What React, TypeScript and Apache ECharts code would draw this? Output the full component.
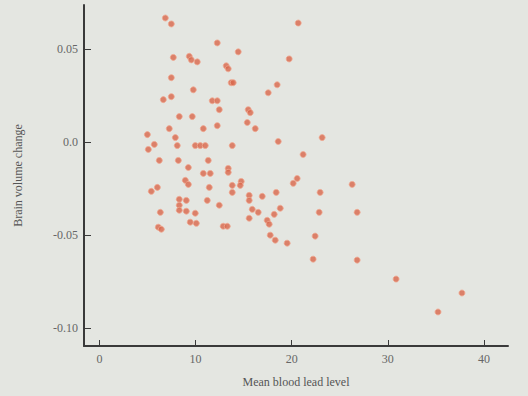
import React, { useEffect, useRef } from "react";
import * as echarts from "echarts";

const leadLevel: number[] = [
  6.86, 7.48, 20.68, 12.26, 14.44, 19.74, 7.69, 9.35, 9.56, 10.18,
  13.19, 13.4, 7.48, 13.71, 13.92, 18.49, 9.77, 17.56, 6.65, 7.48,
  11.74, 12.26, 12.47, 15.48, 15.69, 8.31, 9.66, 15.38, 12.26, 7.27,
  10.81, 16.21, 4.99, 7.9, 18.6, 23.17, 5.71, 5.09, 8.1, 9.97,
  10.49, 11.01, 13.82, 21.19, 6.23, 8.21, 11.32, 9.25, 10.81, 11.53,
  13.4, 13.4, 8.94, 9.25, 6.03, 5.4, 11.43, 20.57, 20.16, 14.75,
  14.65, 13.82, 13.82, 26.29, 8.31, 8.31, 8.31, 9.04, 11.22, 12.47,
  9.04, 9.97, 6.34, 15.58, 15.58, 16.94, 18.39, 22.96, 15.9, 16.52,
  18.81, 18.18, 15.58, 17.45, 17.66, 9.45, 10.08, 6.13, 6.44, 12.88,
  13.3, 22.86, 26.81, 17.77, 18.29, 19.53, 22.44, 22.23, 26.81, 30.86,
  37.71, 35.22,
];

const volumeChange: number[] = [
  0.0667, 0.0635, 0.064, 0.0533, 0.0485, 0.0447, 0.0455, 0.0461, 0.0442, 0.0431,
  0.041, 0.0394, 0.0346, 0.0319, 0.0319, 0.0308, 0.0281, 0.0265, 0.0228, 0.0244,
  0.0222, 0.0222, 0.0174, 0.0174, 0.0158, 0.0137, 0.0137, 0.0105, 0.0088, 0.0072,
  0.0072, 0.0072, 0.004, 0.0024, 0.0003, 0.0024, -0.0013, -0.004, -0.0019, -0.0019,
  -0.0019, -0.0019, -0.0019, -0.0067, -0.0099, -0.0099, -0.0099, -0.0137, -0.0169, -0.0169,
  -0.0142, -0.0163, -0.0206, -0.0228, -0.0244, -0.0265, -0.0244, -0.0196, -0.0222, -0.0212,
  -0.0233, -0.0233, -0.0271, -0.0228, -0.0308, -0.034, -0.0367, -0.0314, -0.0314, -0.034,
  -0.0372, -0.0383, -0.0378, -0.0287, -0.0314, -0.0292, -0.0271, -0.0271, -0.0362, -0.0378,
  -0.0356, -0.0389, -0.041, -0.0421, -0.0442, -0.0431, -0.0437, -0.0458, -0.0469, -0.0453,
  -0.0453, -0.0378, -0.0378, -0.0501, -0.0528, -0.0544, -0.0506, -0.063, -0.0635, -0.0737,
  -0.0812, -0.0914,
];

const xTicks: number[] = [0, 10, 20, 30, 40];
const yTicks: number[] = [-0.1, -0.05, 0, 0.05];
const yTickLabels: string[] = ["-0.10", "-0.05", "0.0", "0.05"];

const FONT = "'Liberation Serif', 'DejaVu Serif', serif";

export default function App() {
  const ref = useRef<HTMLDivElement>(null);

  useEffect(() => {
    document.body.style.margin = "0";
    if (!ref.current) return;
    const chart = echarts.init(ref.current, null, { renderer: "svg" });
    const points = leadLevel.map((x, i) => [x, volumeChange[i]]);
    chart.setOption({
      animation: false,
      backgroundColor: "#e4e6e1",
      grid: { left: 84, right: 20, top: 5, bottom: 50 },
      xAxis: {
        type: "value",
        min: -1.6,
        max: 42.5,
        name: "Mean blood lead level",
        nameLocation: "middle",
        nameGap: 30,
        nameTextStyle: { fontFamily: FONT, fontSize: 12, color: "#555" },
        splitLine: { show: false },
        axisLine: { show: true, onZero: false, lineStyle: { color: "#3a3a3a", width: 2 } },
        axisTick: {
          show: true,
          inside: true,
          length: 6,
          customValues: xTicks,
          lineStyle: { color: "#3a3a3a", width: 1 },
        },
        axisLabel: {
          customValues: xTicks,
          fontFamily: FONT,
          fontSize: 12,
          color: "#666",
          margin: 7,
        },
      },
      yAxis: {
        type: "value",
        min: -0.1097,
        max: 0.0737,
        name: "Brain volume change",
        nameLocation: "middle",
        nameGap: 60,
        nameTextStyle: { fontFamily: FONT, fontSize: 12, color: "#555" },
        splitLine: { show: false },
        axisLine: { show: true, onZero: false, lineStyle: { color: "#3a3a3a", width: 2 } },
        axisTick: {
          show: true,
          inside: true,
          length: 7,
          customValues: yTicks,
          lineStyle: { color: "#3a3a3a", width: 1 },
        },
        axisLabel: {
          customValues: yTicks,
          fontFamily: FONT,
          fontSize: 12,
          color: "#666",
          margin: 6,
          formatter: (v: number) => {
            const i = yTicks.findIndex((t) => Math.abs(t - v) < 1e-9);
            return i >= 0 ? yTickLabels[i] : "";
          },
        },
      },
      series: [
        {
          type: "scatter",
          data: points,
          symbolSize: 6,
          itemStyle: { color: "#d8664b", borderColor: "#f0a890", borderWidth: 1 },
        },
      ],
    });
    return () => chart.dispose();
  }, []);

  return <div ref={ref} style={{ width: 528, height: 396 }} />;
}
